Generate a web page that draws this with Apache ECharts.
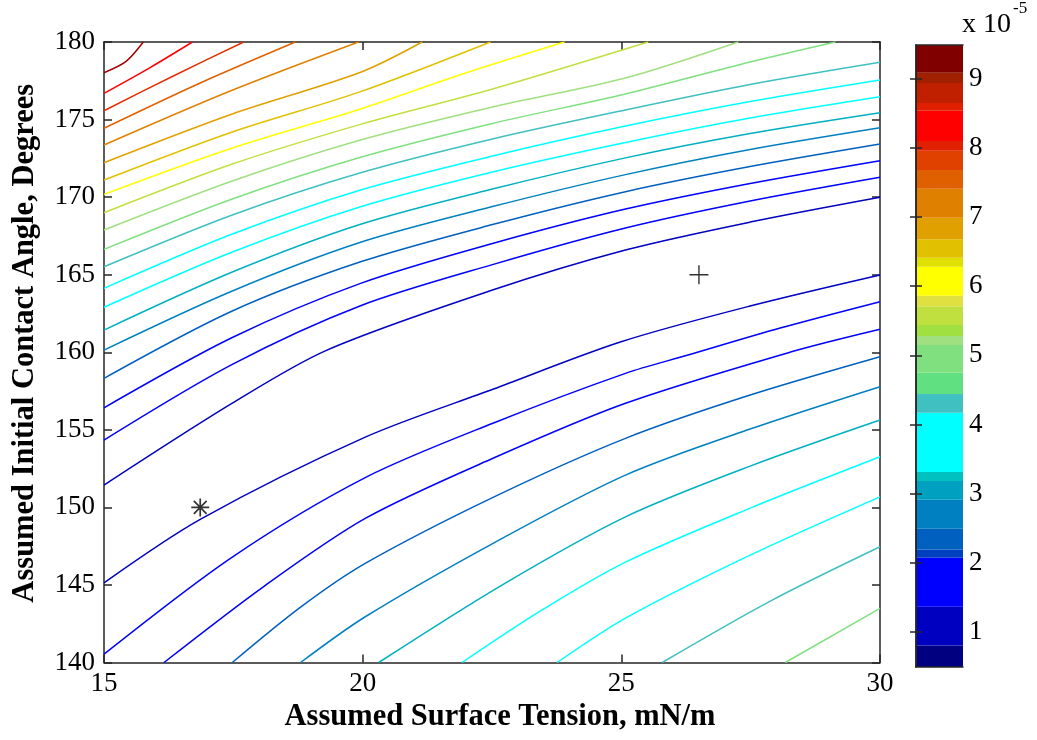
<!DOCTYPE html>
<html>
<head>
<meta charset="utf-8">
<title>Contour - surface tension vs contact angle</title>
<script src="https://cdn.jsdelivr.net/npm/echarts@6/dist/echarts.min.js"></script>
<style>
  html, body { margin: 0; padding: 0; background: #fff; }
  #chart { width: 1037px; height: 740px; }
</style>
</head>
<body>
<div id="chart"></div>
<script>
// ticks
var xTicks = [15, 20, 25, 30];
var yTicks = [140, 145, 150, 155, 160, 165, 170, 175, 180];
var cbTicks = [1, 2, 3, 4, 5, 6, 7, 8, 9];

// colorbar bands (x 10^-5), bottom to top
var cbEdges = [0.49, 0.80, 1.36, 2.07, 2.19, 2.49, 2.91, 3.18, 3.31, 4.17, 4.44, 4.75, 5.15, 5.28, 5.44,
  5.71, 5.86, 6.28, 6.41, 6.68, 6.99, 7.41, 7.68, 7.96, 8.10, 8.54, 8.65, 8.94, 9.09, 9.49];
var cbColors = ['#000080', '#0000c0', '#0000ff', '#0040c0', '#0060c0', '#0080c0', '#00a0c0', '#00c0c0',
  '#00ffff', '#40c0c0', '#60e080', '#80e080', '#a0e080', '#a0e040', '#c0e040', '#e0e040', '#ffff00',
  '#e0e000', '#e0c000', '#e0a000', '#e08000', '#e06000', '#e04000', '#e02000', '#ff0000', '#e02000',
  '#c02000', '#a02000', '#800000'];

// colour of each contour level, lowest (1) to highest (20)
var levelColors = ['#0000c0', '#0000ff', '#0000ff', '#0060c0', '#0080c0', '#00b0c0', '#00ffff', '#00ffff',
  '#40c0c0', '#80e080', '#a0e080', '#c0e040', '#ffff00', '#e0c000', '#e0a000', '#e08000', '#e06000',
  '#e03000', '#ff0000', '#a00000'];

// contours above the valley, top left first
var up1 = [[15, 178.02], [15.42, 178.73], [15.76, 180]];
var up2 = [[15, 176.69], [15.9, 178.37], [16.71, 180]];
var up3 = [[15, 175.57], [16.34, 177.81], [17.70, 180]];
var up4 = [[15, 174.44], [16.86, 177.36], [18.70, 180]];
var up5 = [[15, 173.36], [17.44, 176.84], [19.92, 180]];
var up6 = [[15, 172.22], [17.48, 175.36], [19.96, 178.05], [21.15, 180]];
var up7 = [[15, 171.10], [17.48, 174.20], [19.96, 176.80], [22.47, 180]];
var up8 = [[15, 170.18], [17.48, 173.17], [19.96, 175.68], [21.93, 177.94], [23.90, 180]];
var up9 = [[15, 168.99], [17.48, 172.13], [19.96, 174.69], [22.51, 176.97], [25.52, 180]];
var up10 = [[15, 167.88], [17.48, 171.04], [19.96, 173.68], [22.51, 175.81], [25.08, 177.68], [27.26, 180]];
var up11 = [[15, 166.63], [17.48, 169.88], [19.96, 172.57], [22.51, 174.75], [25.08, 176.65], [27.49, 178.71], [29.14, 180]];
var up12 = [[15, 165.51], [17.48, 168.85], [19.96, 171.57], [22.51, 173.75], [25.08, 175.62], [27.49, 177.26], [30, 178.69]];
var up13 = [[15, 164.12], [17.48, 167.62], [19.96, 170.46], [22.51, 172.65], [25.08, 174.58], [27.49, 176.16], [30, 177.55]];
var up14 = [[15, 162.90], [17.48, 166.46], [19.96, 169.38], [22.51, 171.62], [25.08, 173.52], [27.49, 175.10], [30, 176.47]];
var up15 = [[15, 161.43], [17.48, 165.17], [19.96, 168.25], [22.51, 170.52], [25.08, 172.53], [27.49, 174.10], [30, 175.44]];
var up16 = [[15, 160.14], [17.48, 163.95], [19.96, 167.09], [22.51, 169.39], [25.08, 171.45], [27.49, 173.07], [30, 174.47]];
var up17 = [[15, 158.32], [17.48, 162.66], [19.96, 165.83], [22.51, 168.23], [25.08, 170.35], [27.49, 171.97], [30, 173.42]];
var up18 = [[15, 156.42], [17.48, 160.95], [19.96, 164.44], [22.51, 167.01], [25.08, 169.23], [27.49, 170.88], [30, 172.35]];
var up19 = [[15, 154.34], [17.48, 159.22], [19.96, 163.00], [22.51, 165.65], [25.08, 168.01], [27.49, 169.75], [30, 171.28]];
var up20 = [[15, 151.44], [17.48, 156.72], [19.31, 160.14], [22.51, 164.01], [25.08, 166.59], [27.49, 168.39], [30, 169.99]];
var upperLines = [up1, up2, up3, up4, up5, up6, up7, up8, up9, up10,
  up11, up12, up13, up14, up15, up16, up17, up18, up19, up20];
var upperLevels = [20, 19, 18, 17, 16, 15, 14, 13, 12, 11, 10, 9, 8, 7, 6, 5, 4, 3, 2, 1];

// contours below the valley, nearest the valley first
var lo1 = [[15, 145.14], [16.86, 149.23], [20.05, 154.53], [22.53, 157.63], [24.98, 160.66], [27.49, 162.98], [30, 164.98]];
var lo2 = [[15, 140.54], [17.48, 146.80], [20.05, 151.92], [22.53, 155.44], [25.08, 158.64], [26.29, 159.82], [28.07, 161.56], [30, 163.26]];
var lo3 = [[16.16, 140], [18.10, 144.93], [20.05, 149.29], [22.53, 153.18], [25.08, 156.71], [28.27, 160.01], [30, 161.48]];
var lo4 = [[17.48, 140], [18.80, 143.57], [20.05, 146.39], [22.53, 150.66], [25.08, 154.45], [27.49, 157.24], [30, 159.71]];
var lo5 = [[18.80, 140], [20.05, 142.95], [22.53, 147.70], [25.08, 152.08], [27.49, 155.05], [30, 157.78]];
var lo6 = [[20.31, 140], [22.66, 144.93], [25.08, 149.39], [27.49, 152.66], [30, 155.63]];
var lo7 = [[21.92, 140], [23.43, 143.31], [25.08, 146.47], [27.49, 149.95], [30, 153.26]];
var lo8 = [[23.76, 140], [25.08, 142.86], [27.49, 146.92], [30, 150.68]];
var lo9 = [[25.79, 140], [27.88, 143.96], [30, 147.46]];
var lo10 = [[28.17, 140], [30, 143.49]];
var lowerLines = [lo1, lo2, lo3, lo4, lo5, lo6, lo7, lo8, lo9, lo10];
var lowerLevels = [1, 2, 3, 4, 5, 6, 7, 8, 9, 10];

// markers
var starPoint = [[16.86, 150]];
var plusPoint = [[26.5, 165]];

var serif = "'Liberation Serif', 'Times New Roman', serif";
var frame = { color: '#262626', width: 1.5 };

var series = [];
function addContour(pts, level) {
  series.push({
    type: 'line',
    xAxisIndex: 0,
    yAxisIndex: 0,
    data: pts,
    smooth: 0.3,
    symbol: 'none',
    silent: true,
    lineStyle: { color: levelColors[level - 1], width: 1.5 }
  });
}
upperLines.forEach(function (l, i) { addContour(l, upperLevels[i]); });
lowerLines.forEach(function (l, i) { addContour(l, lowerLevels[i]); });

series.push({
  type: 'scatter',
  xAxisIndex: 0,
  yAxisIndex: 0,
  data: starPoint,
  symbol: 'path://M8,0L8,16M0,8L16,8M2.3,2.3L13.7,13.7M13.7,2.3L2.3,13.7',
  symbolSize: 18,
  itemStyle: { color: 'transparent', borderColor: '#000', borderWidth: 1.7 },
  z: 5
});
series.push({
  type: 'scatter',
  xAxisIndex: 0,
  yAxisIndex: 0,
  data: plusPoint,
  symbol: 'path://M0,8L16,8M8,0L8,16',
  symbolSize: 19,
  itemStyle: { color: 'transparent', borderColor: '#000', borderWidth: 1.4 },
  z: 5
});

// colorbar bands
var bandData = cbColors.map(function (c, i) { return [0, cbEdges[i], cbEdges[i + 1]]; });
series.push({
  type: 'custom',
  xAxisIndex: 2,
  yAxisIndex: 2,
  data: bandData,
  encode: { x: 0, y: [1, 2] },
  z: 1,
  silent: true,
  renderItem: function (params, api) {
    var p0 = api.coord([0, api.value(1)]);
    var p1 = api.coord([1, api.value(2)]);
    return {
      type: 'rect',
      shape: { x: p0[0], y: p1[1], width: p1[0] - p0[0], height: p0[1] - p1[1] },
      style: { fill: cbColors[params.dataIndex] }
    };
  }
});

function plotX(pos, showLabel) {
  return {
    gridIndex: 0, type: 'value', min: 15, max: 30, interval: 5, position: pos, z: 3,
    axisLine: { lineStyle: frame },
    axisTick: { inside: true, length: 8, lineStyle: frame },
    axisLabel: { show: showLabel, fontFamily: serif, fontSize: 27, color: '#000', margin: 8 },
    splitLine: { show: false }
  };
}
function plotY(pos, showLabel) {
  return {
    gridIndex: 0, type: 'value', min: 140, max: 180, interval: 5, position: pos, z: 3,
    axisLine: { lineStyle: frame },
    axisTick: { inside: true, length: 8, lineStyle: frame },
    axisLabel: { show: showLabel, fontFamily: serif, fontSize: 27, color: '#000', margin: 9 },
    splitLine: { show: false }
  };
}

var xBottom = plotX('bottom', true);
xBottom.name = 'Assumed Surface Tension, mN/m';
xBottom.nameLocation = 'middle';
xBottom.nameGap = 39;
xBottom.nameMoveOverlap = false;
xBottom.nameTextStyle = { fontFamily: serif, fontWeight: 'bold', fontSize: 30.5, color: '#000', padding: [0, 0, 0, 16] };

var yLeft = plotY('left', true);
yLeft.name = 'Assumed Initial Contact Angle, Degrees';
yLeft.nameLocation = 'middle';
yLeft.nameGap = 63;
yLeft.nameMoveOverlap = false;
yLeft.nameTextStyle = { fontFamily: serif, fontWeight: 'bold', fontSize: 30.5, color: '#000', padding: [0, 0, 0, 18] };

function cbX(pos) {
  return {
    gridIndex: 1, type: 'value', min: 0, max: 1, position: pos, z: 5,
    axisLine: { lineStyle: frame },
    axisTick: { show: false },
    axisLabel: { show: false },
    splitLine: { show: false }
  };
}
function cbY(pos, showLabel) {
  return {
    gridIndex: 1, type: 'value', min: cbEdges[0], max: cbEdges[cbEdges.length - 1], position: pos, z: 5,
    axisLine: { lineStyle: frame },
    axisTick: { inside: true, length: 6, lineStyle: frame, customValues: cbTicks },
    axisLabel: { show: showLabel, customValues: cbTicks, fontFamily: serif, fontSize: 27, color: '#000', margin: 6 },
    splitLine: { show: false }
  };
}

var chart = echarts.init(document.getElementById('chart'));
chart.setOption({
  animation: false,
  backgroundColor: '#fff',
  grid: [
    { left: 104, right: 157, top: 42, bottom: 77.5, outerBoundsMode: 'none' },
    { left: 916, right: 74, top: 45, bottom: 73, outerBoundsMode: 'none' }
  ],
  xAxis: [xBottom, plotX('top', false), cbX('bottom'), cbX('top')],
  yAxis: [yLeft, plotY('right', false), cbY('right', true), cbY('left', false)],
  graphic: [
    { type: 'text', left: 962, top: 11, style: { text: 'x 10', font: '28px ' + serif, fill: '#000' } },
    { type: 'text', left: 1013, top: 0, style: { text: '-5', font: '17px ' + serif, fill: '#000' } }
  ],
  series: series
});
</script>
</body>
</html>
